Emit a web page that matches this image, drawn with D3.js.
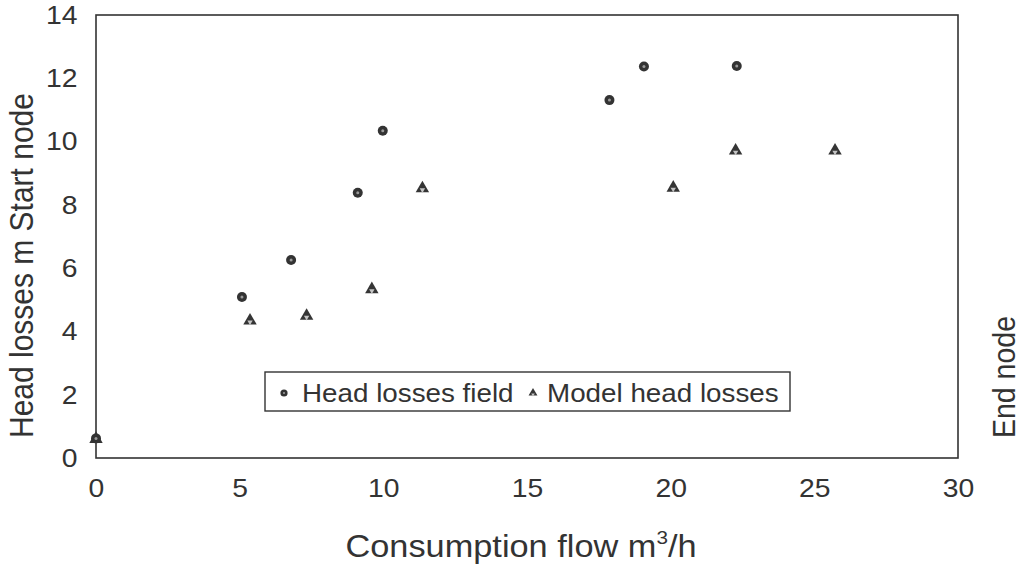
<!DOCTYPE html>
<html>
<head>
<meta charset="utf-8">
<script src="https://cdn.jsdelivr.net/npm/d3@7"></script>
<style>
  html, body { margin: 0; padding: 0; background: #ffffff; }
  svg { display: block; }
</style>
</head>
<body>
<svg id="chart" width="1021" height="569"></svg>
<script>
// Measured head losses along the pipe, and the model's prediction
const fieldFlow = [0, 5.08, 6.79, 9.11, 9.98, 17.87, 19.07, 22.3];
const fieldLoss = [0.62, 5.09, 6.26, 8.38, 10.34, 11.31, 12.37, 12.39];
const modelFlow = [0, 5.36, 7.33, 9.6, 11.36, 20.09, 22.26, 25.72];
const modelLoss = [0.6, 4.34, 4.49, 5.33, 8.52, 8.54, 9.71, 9.71];

const seriesNames = ["Head losses field", "Model head losses"];
const xTicks = [0, 5, 10, 15, 20, 25, 30];
const yTicks = [0, 2, 4, 6, 8, 10, 12, 14];
const xDomain = [0, 30];
const yDomain = [0, 14];

const ink = "#333333";
const fontFamily = "'Liberation Sans', Arial, Helvetica, sans-serif";
const stretch = 1.09; // glyphs are a little wider than plain Arial

const svg = d3.select("#chart").attr("font-family", fontFamily);

const x = d3.scaleLinear().domain(xDomain).range([96, 958]);
const y = d3.scaleLinear().domain(yDomain).range([458, 15]);

// Axes: labels only, the frame is drawn as a box
const gx = svg.append("g")
  .attr("transform", `translate(0,${y(0)})`)
  .call(d3.axisBottom(x).tickValues(xTicks).tickSize(0).tickPadding(21).tickFormat(d3.format("d")));
gx.select(".domain").remove();
gx.attr("font-size", 26).attr("font-family", fontFamily);
gx.selectAll("text").attr("fill", ink).attr("transform", `scale(${stretch},1)`);

const gy = svg.append("g")
  .attr("transform", `translate(${x(0)},0)`)
  .call(d3.axisLeft(y).tickValues(yTicks).tickSize(0).tickPadding(17).tickFormat(d3.format("d")));
gy.select(".domain").remove();
gy.attr("font-size", 26).attr("font-family", fontFamily);
gy.selectAll("text").attr("fill", ink).attr("transform", `scale(${stretch},1)`);

// Plot frame
svg.append("rect")
  .attr("x", x(xDomain[0])).attr("y", y(yDomain[1]))
  .attr("width", x(xDomain[1]) - x(xDomain[0]))
  .attr("height", y(yDomain[0]) - y(yDomain[1]))
  .attr("fill", "none").attr("stroke", ink).attr("stroke-width", 1.6);

// Marker painters: a dark dot with a speckled centre, a dark triangle with a pale core
function drawDot(sel, r) {
  sel.append("circle").attr("r", r).attr("fill", "#333333");
  sel.append("circle").attr("r", r * 0.3).attr("fill", "#9a9a9a");
}
function drawTri(sel, s) {
  sel.append("path").attr("d", d3.symbol(d3.symbolTriangle, s)()).attr("fill", "#353535");
  sel.append("path").attr("d", d3.symbol(d3.symbolTriangle, s * 0.16)())
    .attr("transform", "translate(0,1.5) rotate(180)").attr("fill", "#c4c4c4");
}

const fieldPts = fieldFlow.map((f, i) => ({ f, h: fieldLoss[i] }));
const modelPts = modelFlow.map((f, i) => ({ f, h: modelLoss[i] }));

svg.append("g").selectAll("g").data(modelPts).join("g")
  .attr("transform", d => `translate(${x(d.f)},${y(d.h)})`)
  .each(function () { drawTri(d3.select(this), 78); });

svg.append("g").selectAll("g").data(fieldPts).join("g")
  .attr("transform", d => `translate(${x(d.f)},${y(d.h)})`)
  .each(function () { drawDot(d3.select(this), 5); });

// Legend
const legend = svg.append("g");
legend.append("rect")
  .attr("x", 265).attr("y", 372).attr("width", 525).attr("height", 39)
  .attr("fill", "#ffffff").attr("stroke", ink).attr("stroke-width", 1.4);
const l1 = legend.append("g").attr("transform", "translate(284,393)");
drawDot(l1, 3.6);
legend.append("text").attr("transform", `translate(302,402) scale(${stretch},1)`)
  .attr("font-size", 25.5).attr("fill", ink).text(seriesNames[0]);
const l2 = legend.append("g").attr("transform", "translate(533,393)");
drawTri(l2, 34);
legend.append("text").attr("transform", `translate(547,402) scale(${stretch},1)`)
  .attr("font-size", 25.5).attr("fill", ink).text(seriesNames[1]);

// Axis titles
const xt = svg.append("text")
  .attr("transform", `translate(${(x(xDomain[0]) + x(xDomain[1])) / 2 - 6},557) scale(${stretch},1)`)
  .attr("text-anchor", "middle")
  .attr("font-size", 31.5).attr("fill", ink);
xt.append("tspan").text("Consumption flow m");
xt.append("tspan").attr("font-size", 19).attr("dy", -13).text("3");
xt.append("tspan").attr("dy", 13).text("/h");

svg.append("text")
  .attr("transform", `translate(33,438) rotate(-90) scale(1,${stretch})`)
  .attr("font-size", 30).attr("fill", ink)
  .text("Head losses m Start node");

svg.append("text")
  .attr("transform", `translate(1015,438) rotate(-90) scale(1,${stretch})`)
  .attr("font-size", 28.5).attr("fill", ink)
  .text("End node");
</script>
</body>
</html>
